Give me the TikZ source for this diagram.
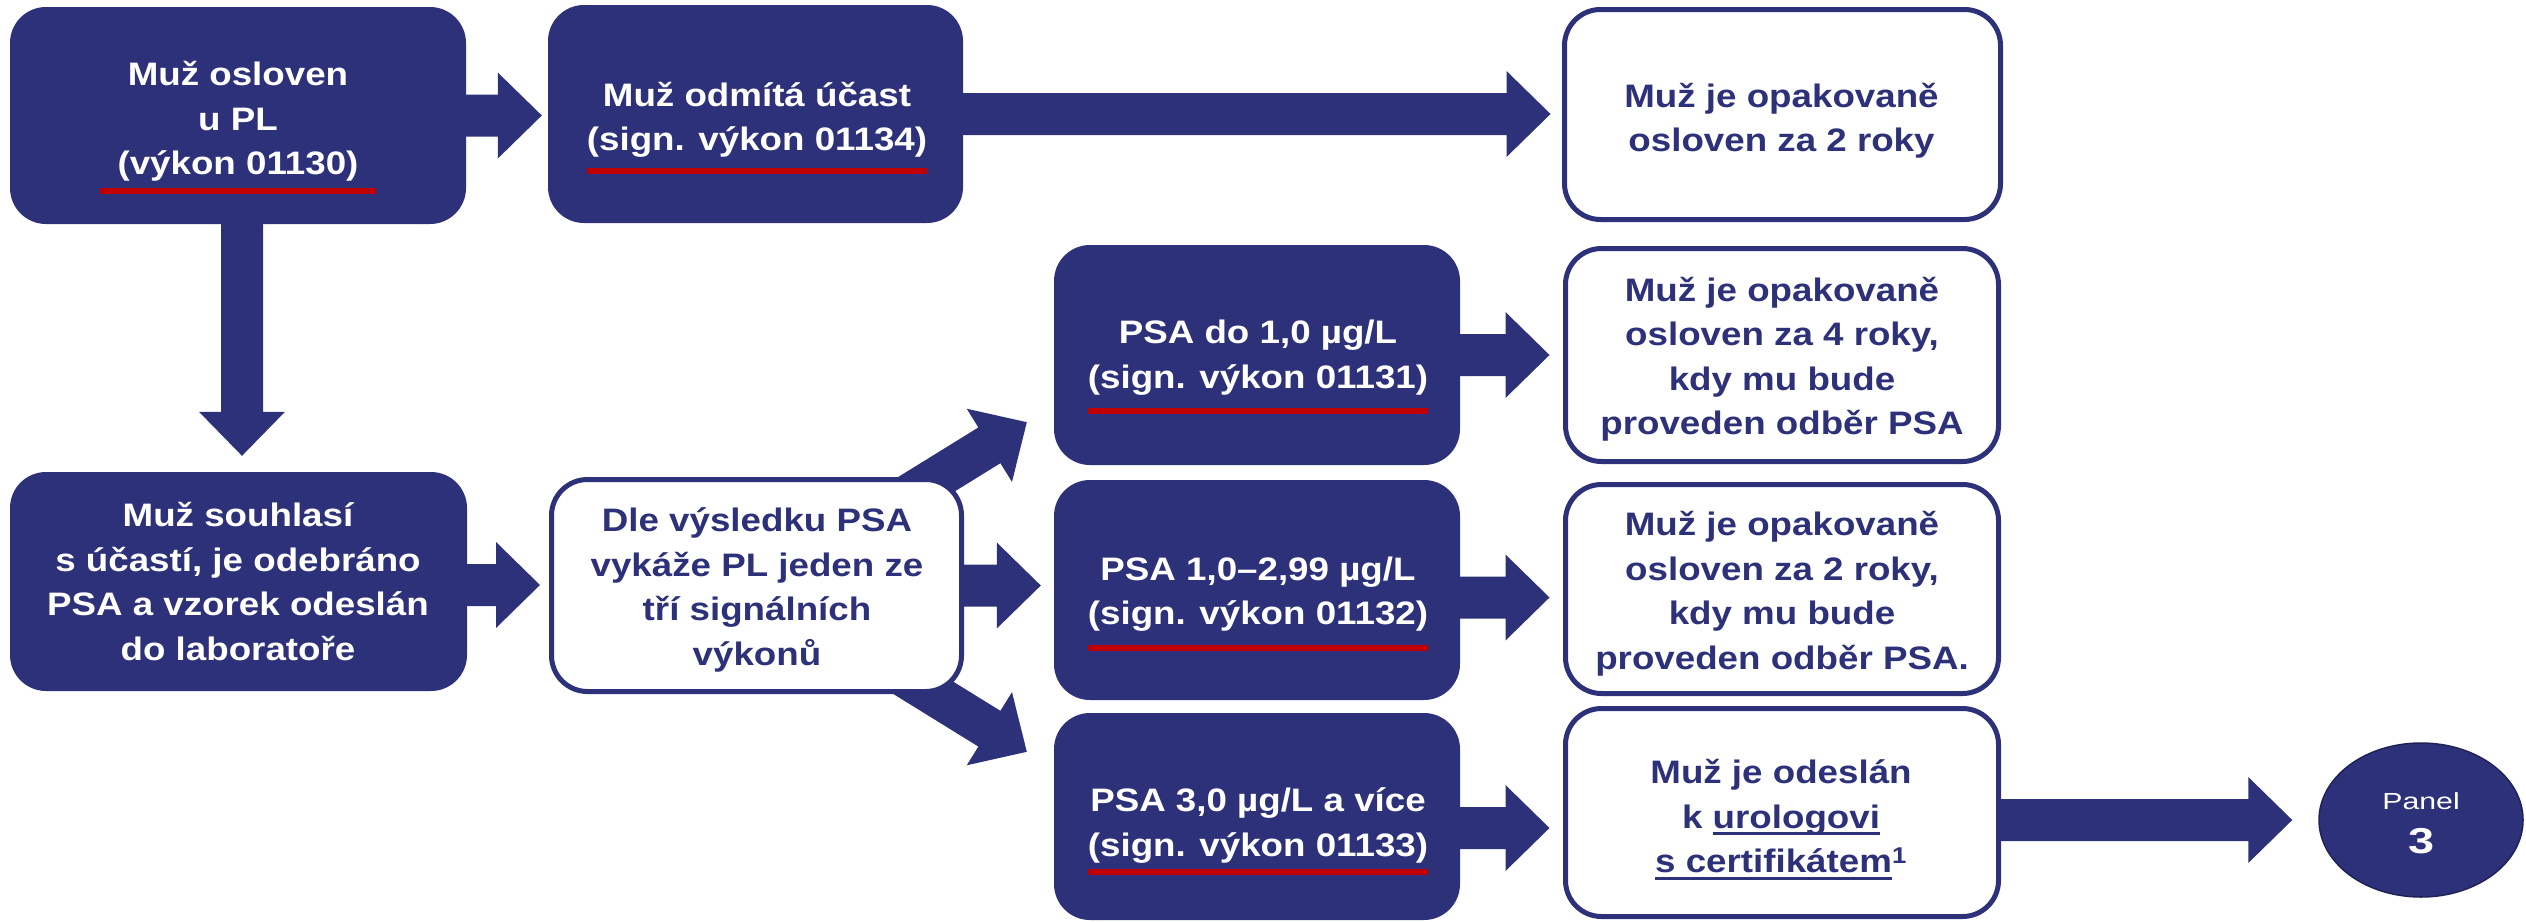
\documentclass[tikz,border=0pt]{standalone}
\usepackage{fontspec}
\setmainfont{Liberation Sans}[FakeStretch=1.13]
\newfontfamily\panelfont{Liberation Sans}[FakeStretch=1.3]
\usetikzlibrary{calc,shapes.geometric}
\definecolor{navy}{RGB}{45,49,121}
\definecolor{redl}{RGB}{192,0,0}
\pgfdeclarelayer{bg}
\pgfsetlayers{bg,main}
\newcommand{\firststrut}{\rule{0pt}{40pt}}
\newcommand{\laststrut}{\rule[-16.8pt]{0pt}{16.8pt}}
\newsavebox\ulbox
\newcommand{\ulx}[1]{\sbox\ulbox{#1}\rlap{\rule[-7pt]{\wd\ulbox}{3pt}}\usebox\ulbox}
\newcommand{\blockarrow}[2]{%
  \coordinate (bnk) at ($(#2)!44pt!(#1)$);
  \fill[navy] ($(#1)!21pt!90:(#2)$) -- ($(bnk)!21pt!90:(#2)$) -- ($(bnk)!43pt!90:(#2)$) -- (#2)
     -- ($(bnk)!43pt!-90:(#2)$) -- ($(bnk)!21pt!-90:(#2)$) -- ($(#1)!21pt!-90:(#2)$) -- cycle;}
\begin{document}
\begin{tikzpicture}[x=1pt,y=-1pt,
  dbox/.style={rectangle,rounded corners=36pt,fill=navy,inner sep=0pt},
  wbox/.style={rectangle,rounded corners=36pt,fill=white,draw=navy,line width=5pt,inner sep=0pt},
  wtxt/.style={align=center,inner sep=0pt,text=white,font=\fontsize{32.5pt}{44.5pt}\selectfont\bfseries},
  ntxt/.style={wtxt,text=navy},
  redline/.style={draw=redl,line width=6pt},
  ptxt/.style={anchor=base,inner sep=0pt,text=white}]
\useasboundingbox (0,0) rectangle (2526,921);
% boxes
\node[dbox,minimum width=456pt,minimum height=217pt] (A) at (238,115.5) {};
\node[dbox,minimum width=415pt,minimum height=218pt] (B) at (755.5,114) {};
\node[wbox,minimum width=436pt,minimum height=210pt] (C) at (1782.5,114.5) {};
\node[dbox,minimum width=457pt,minimum height=219pt] (D) at (238.5,581.5) {};
\node[wbox,minimum width=410pt,minimum height=212pt] (E) at (756.5,585.5) {};
\node[dbox,minimum width=406pt,minimum height=220pt] (F1) at (1257,355) {};
\node[dbox,minimum width=406pt,minimum height=220pt] (F2) at (1257,590) {};
\node[dbox,minimum width=406pt,minimum height=207pt] (F3) at (1257,816.5) {};
\node[wbox,minimum width=433pt,minimum height=213pt] (G1) at (1782,355) {};
\node[wbox,minimum width=433pt,minimum height=209pt] (G2) at (1782,589) {};
\node[wbox,minimum width=433pt,minimum height=208pt] (G3) at (1782,812.5) {};
\node[ellipse,fill=navy,draw=navy!70!black,line width=1.5pt,minimum width=204pt,minimum height=154pt,inner sep=0pt] (P) at (2421,820) {};
% texts
\node[wtxt] (At) at (238,118.4) {\firststrut Muž osloven\\u PL\\(výkon 01130)\laststrut};
\node[wtxt] (Bt) at (757,116.7) {\firststrut Muž odmítá účast\\(sign. výkon 01134)\laststrut};
\node[ntxt] (Ct) at (1781.5,117.9) {\firststrut Muž je opakovaně\\osloven za 2 roky\laststrut};
\node[wtxt] (Dt) at (238,581.8) {\firststrut Muž souhlasí\\s účastí, je odebráno\\PSA a vzorek odeslán\\do laboratoře\laststrut};
\node[ntxt] (Et) at (757,586.8) {\firststrut Dle výsledku PSA\\vykáže PL jeden ze\\tří signálních\\výkonů\laststrut};
\node[wtxt] (F1t) at (1258,354.4) {\firststrut PSA do 1,0 µg/L\\(sign. výkon 01131)\laststrut};
\node[wtxt] (F2t) at (1258,591) {\firststrut PSA 1,0–2,99 µg/L\\(sign. výkon 01132)\laststrut};
\node[wtxt] (F3t) at (1258,822.2) {\firststrut PSA 3,0 µg/L a více\\(sign. výkon 01133)\laststrut};
\node[ntxt] (G1t) at (1782,356.6) {\firststrut Muž je opakovaně\\osloven za 4 roky,\\kdy mu bude\\proveden odběr PSA\laststrut};
\node[ntxt] (G2t) at (1782,590.8) {\firststrut Muž je opakovaně\\osloven za 2 roky,\\kdy mu bude\\proveden odběr PSA.\laststrut};
\node[ntxt] (G3t) at (1781,816.4) {\firststrut Muž je odeslán\\k \ulx{urologovi}\\\ulx{s certifikátem}\textsuperscript{1}\laststrut};
\node[ptxt,font=\panelfont\fontsize{23.3pt}{28pt}\selectfont] (Pt1) at (2421,809) {Panel};
\node[ptxt,font=\panelfont\fontsize{36pt}{40pt}\selectfont\bfseries] (Pt2) at (2421,853) {3};
% red underlines
\draw[redline] ($(At.south west)+(-17,-1)$) -- ($(At.south east)+(17,-1)$);
\draw[redline] ($(Bt.south west)+(0,3)$) -- ($(Bt.south east)+(0,3)$);
\draw[redline] ($(F1t.south west)+(0,6)$) -- ($(F1t.south east)+(0,6)$);
\draw[redline] ($(F2t.south west)+(0,6)$) -- ($(F2t.south east)+(0,6)$);
\draw[redline] ($(F3t.south west)+(0,-1)$) -- ($(F3t.south east)+(0,-1)$);
% arrows
\begin{pgfonlayer}{bg}
\coordinate (tAB) at ($(A.east -| B.west)+(-6,0)$);
\blockarrow{A.east}{tAB}
\coordinate (tBC) at ($(B.east -| C.west)+(-11.5,0)$);
\blockarrow{B.east}{tBC}
\coordinate (sAD) at ($(A.south)+(4,0)$);
\coordinate (tAD) at ($(sAD |- D.north)+(0,-16)$);
\blockarrow{sAD}{tAD}
\coordinate (sDE) at ($(D.east)+(0,3.5)$);
\coordinate (tDE) at ($(sDE -| E.west)+(-9,0)$);
\blockarrow{sDE}{tDE}
\coordinate (tEF2) at ($(E.east -| F2.west)+(-13,0)$);
\blockarrow{E.east}{tEF2}
\coordinate (sEF1) at ($(E.north east)+(-61.5,22)$);
\coordinate (tEF1) at ($(F1.south west)+(-27,-43)$);
\blockarrow{sEF1}{tEF1}
\coordinate (sEF3) at ($(E.south east)+(-61.5,-19)$);
\coordinate (tEF3) at ($(F3.north west)+(-27,39)$);
\blockarrow{sEF3}{tEF3}
\coordinate (tFG1) at ($(F1.east -| G1.west)+(-13.5,0)$);
\blockarrow{F1.east}{tFG1}
\coordinate (sF2) at ($(F2.east)+(0,7.5)$);
\coordinate (tFG2) at ($(sF2 -| G2.west)+(-13.5,0)$);
\blockarrow{sF2}{tFG2}
\coordinate (sF3) at ($(F3.east)+(0,11.5)$);
\coordinate (tFG3) at ($(sF3 -| G3.west)+(-13.5,0)$);
\blockarrow{sF3}{tFG3}
\coordinate (sGP) at (G3.east |- P.center);
\coordinate (tGP) at ($(P.west)+(-26,0)$);
\blockarrow{sGP}{tGP}
\end{pgfonlayer}
\end{tikzpicture}
\end{document}
